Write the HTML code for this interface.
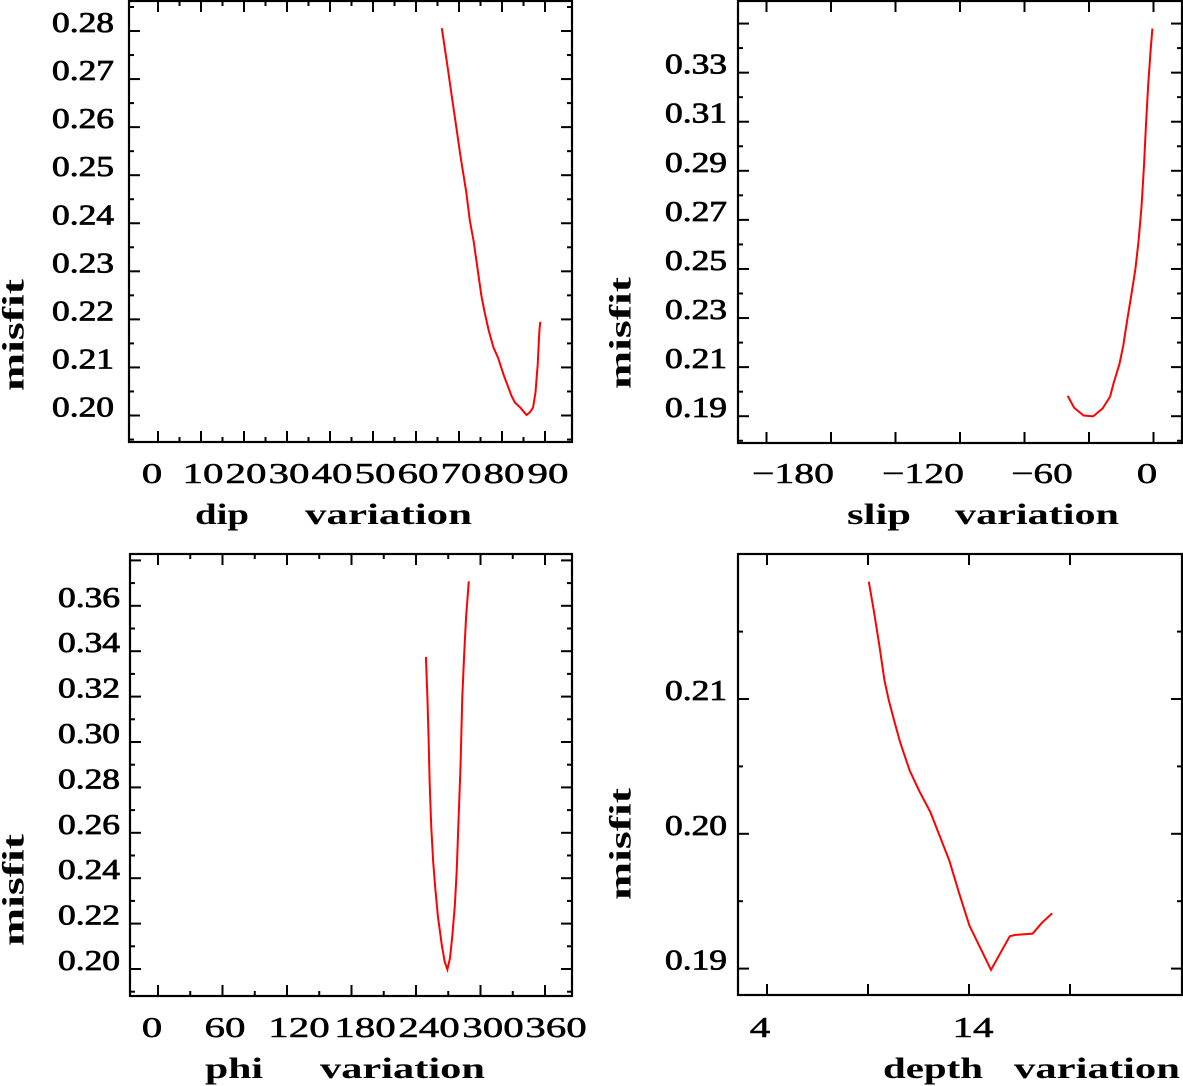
<!DOCTYPE html>
<html><head><meta charset="utf-8"><style>
html,body{margin:0;padding:0;background:#fff;}
svg{display:block;}
text{font-family:"Liberation Serif",serif;fill:#000;}
</style></head><body>
<svg id="fig" width="1183" height="1086" viewBox="0 0 1183 1086" xmlns="http://www.w3.org/2000/svg"></svg>
<script>
// ---- data ----
const dipX=[66.0,67.3,68.2,69.5,70.3,71.7,72.5,73.4,74.3,75.2,75.9,76.9,78.0,79.1,80.4,82.2,83.0,84.3,85.7,86.5,87.2,87.8,88.3,88.7,88.9];
const dipY=[0.2806,0.2728,0.2671,0.2593,0.2542,0.2464,0.2406,0.2363,0.2306,0.2249,0.2217,0.2177,0.2142,0.2120,0.2084,0.2041,0.2027,0.2016,0.2001,0.2007,0.2016,0.2048,0.2106,0.2177,0.2195];
const slipX=[-39.9,-36.9,-32.5,-28.1,-23.7,-20.2,-18.5,-15.8,-14.0,-12.3,-10.2,-8.4,-7.0,-5.6,-4.4,-3.5,-2.5,-1.4,-0.5];
const slipY=[0.1983,0.1934,0.1903,0.1899,0.1931,0.1980,0.2036,0.2113,0.2191,0.2289,0.2401,0.2500,0.2612,0.2753,0.2921,0.3090,0.3244,0.3385,0.3480];
const phiX=[249.2,250.6,251.7,252.7,254.1,255.9,258.0,260.4,263.9,266.7,269.2,271.6,273.7,276.1,277.9,279.6,281.4,283.1,284.9,286.6,289.1];
const phiY=[0.3375,0.3199,0.3015,0.2815,0.2631,0.2477,0.2355,0.2232,0.2109,0.2032,0.1998,0.2048,0.2140,0.2278,0.2431,0.2662,0.2892,0.3199,0.3398,0.3552,0.3708];
const depthX=[9.04,9.28,9.56,9.81,10.03,10.31,10.59,11.06,11.53,12.09,12.56,13.03,13.49,14.02,15.09,16.02,16.30,17.15,17.61,18.12];
const depthY=[0.2187,0.2166,0.2140,0.2114,0.2099,0.2083,0.2068,0.2047,0.2032,0.2016,0.1998,0.1980,0.1957,0.1932,0.1899,0.1924,0.1925,0.1926,0.1934,0.1941];
const dipTicks=["0","10","20","30","40","50","60","70","80","90"];
const dipYTicks=["0.20","0.21","0.22","0.23","0.24","0.25","0.26","0.27","0.28"];
const slipTicks=["\u2212180","\u2212120","\u221260","0"];
const slipYTicks=["0.19","0.21","0.23","0.25","0.27","0.29","0.31","0.33"];
const phiTicks=["0","60","120","180","240","300","360"];
const phiYTicks=["0.20","0.22","0.24","0.26","0.28","0.30","0.32","0.34","0.36"];
const depthTicks=["4","14"];
const depthYTicks=["0.19","0.20","0.21"];

const NS="http://www.w3.org/2000/svg";
const svg=document.getElementById('fig');
function mk(tag,attrs,parent){const e=document.createElementNS(NS,tag);for(const k in attrs)e.setAttribute(k,attrs[k]);(parent||svg).appendChild(e);return e;}

function panel(p){
  const g=mk('g',{});
  
  
  const sx=v=>p.x0+(v-p.xv0)*p.xk;
  const sy=v=>p.y0-(v-p.yv0)*p.yk;
  const fr=mk('rect',{x:p.L,y:p.T,width:p.R-p.L,height:p.B-p.T,fill:'none',stroke:'#000','stroke-width':2.2},g);
  
  
  for(let v=p.xmin;v<=p.xmax+1e-9;v+=p.xminor){
    const major=Math.abs(((v-p.xmin)/p.xstep)-Math.round((v-p.xmin)/p.xstep))<1e-6;
    const len=major?11:5;const X=sx(v);
    mk('line',{x1:X,x2:X,y1:p.B,y2:p.B-len,stroke:'#000','stroke-width':2},g);
    mk('line',{x1:X,x2:X,y1:p.T,y2:p.T+len,stroke:'#000','stroke-width':2},g);
  }
  for(let v=p.ymin;v<=p.ymax+1e-9;v+=p.yminor){
    const r=(v-p.ymajBase)/p.ystep;
    const major=Math.abs(r-Math.round(r))<1e-6;
    const len=major?11:5;const Y=sy(v);
    mk('line',{x1:p.L,x2:p.L+len,y1:Y,y2:Y,stroke:'#000','stroke-width':2},g);
    mk('line',{x1:p.R,x2:p.R-len,y1:Y,y2:Y,stroke:'#000','stroke-width':2},g);
  }
  p.yTicks.forEach((s,i)=>{
    const v=parseFloat(s);
    const t=mk('text',{x:p.ylabX,y:sy(v)+1,'text-anchor':'end','font-size':29,stroke:'#000','stroke-width':0.8,textLength:62,lengthAdjust:'spacingAndGlyphs'},g);
    t.textContent=s;
    
    
  });
  p.xTicks.forEach((s,i)=>{
    const t=mk('text',{x:p.xlabPos[i],y:p.xlabBase,'text-anchor':'middle','font-size':29,stroke:'#000','stroke-width':0.5,textLength:s.length*20.5,lengthAdjust:'spacingAndGlyphs'},g);
    t.textContent=s;
    
    
  });
  p.titles.forEach(tt=>{
    const t=mk('text',{x:tt[1],y:p.titleBase,'font-size':30,'font-weight':'bold',textLength:tt[2]-tt[1],lengthAdjust:'spacingAndGlyphs'},g);
    t.textContent=tt[0];
    
    
  });
  const yt=mk('text',{x:0,y:0,'text-anchor':'middle','dominant-baseline':'central','font-size':31,'font-weight':'bold',textLength:112,lengthAdjust:'spacingAndGlyphs',transform:`translate(${p.ytx},${p.yty}) rotate(-90)`},g);
  yt.textContent='misfit';
  
  
  const pts=p.xs.map((v,i)=>sx(v).toFixed(1)+','+sy(p.ys[i]).toFixed(1)).join(' ');
  const pl=mk('polyline',{points:pts,fill:'none',stroke:'#ff0000','stroke-width':2},g);
  
  
}

panel({name:'dip',L:129,R:572,T:1,B:442,x0:158,xv0:0,xk:4.3,y0:415.5,yv0:0.20,yk:4806,
  xmin:0,xmax:90,xstep:10,xminor:5,ymin:0.195,ymax:0.285,ymajBase:0.20,ystep:0.01,yminor:0.005,
  yTicks:dipYTicks,ylabX:114,xTicks:dipTicks,xlabPos:[152,203,246,289,332,375,418,461,504,548],xlabBase:483,
  titles:[['dip',195,249],['variation',305,472]],titleBase:524,ytx:13,yty:335,xs:dipX,ys:dipY});
panel({name:'slip',L:738,R:1182,T:1,B:443,x0:1153.5,xv0:0,xk:2.15,y0:416.2,yv0:0.19,yk:2454,
  xmin:-180,xmax:0,xstep:30,xminor:30,ymin:0.18,ymax:0.35,ymajBase:0.19,ystep:0.02,yminor:0.01,
  yTicks:slipYTicks,ylabX:727,xTicks:slipTicks,xlabPos:[793,923,1042,1147],xlabBase:483,
  titles:[['slip',847,911],['variation',955,1119]],titleBase:524,ytx:620,yty:333,xs:slipX,ys:slipY});
panel({name:'phi',L:130,R:572,T:554,B:996,x0:158,xv0:0,xk:1.075,y0:969,yv0:0.20,yk:2270,
  xmin:0,xmax:360,xstep:60,xminor:30,ymin:0.19,ymax:0.38,ymajBase:0.20,ystep:0.02,yminor:0.01,
  yTicks:phiYTicks,ylabX:120,xTicks:phiTicks,xlabPos:[152,225,299,365,429,493,556],xlabBase:1037,
  titles:[['phi',205,263],['variation',320,485]],titleBase:1078,ytx:13,yty:890,xs:phiX,ys:phiY});
panel({name:'depth',L:738,R:1182,T:554,B:995,x0:767,xv0:4,xk:20.2,y0:968.6,yv0:0.19,yk:13480,
  xmin:4,xmax:19,xstep:5,xminor:5,ymin:0.19,ymax:0.215,ymajBase:0.19,ystep:0.01,yminor:0.005,
  yTicks:depthYTicks,ylabX:727,xTicks:depthTicks,xlabPos:[760,973],xlabBase:1037,
  titles:[['depth',883,983],['variation',1014,1180]],titleBase:1078,ytx:620,yty:844,xs:depthX,ys:depthY});
</script>
</body></html>
